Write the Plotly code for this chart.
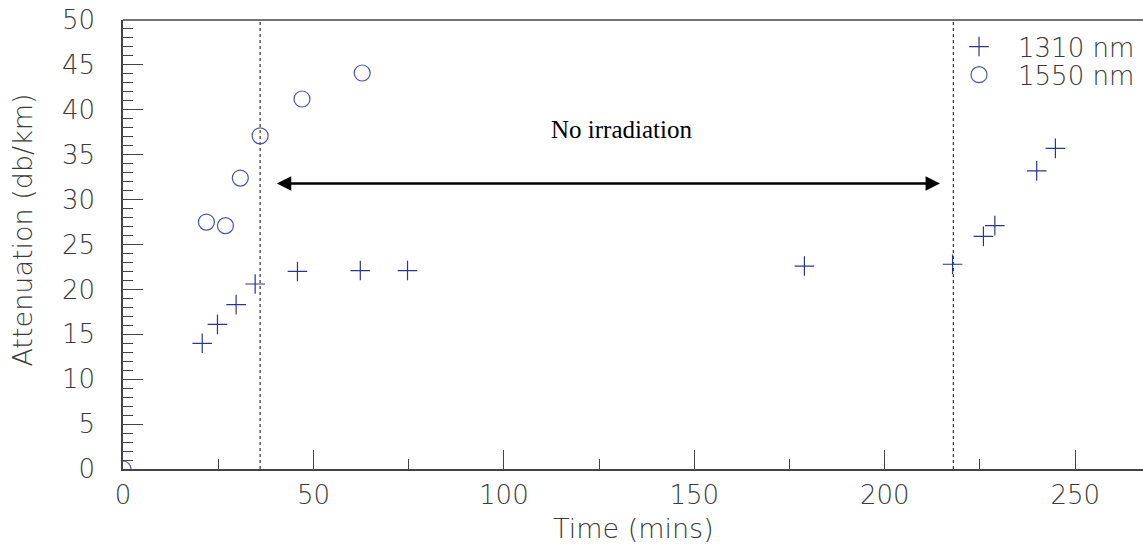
import plotly.graph_objects as go

# Attenuation measurements (dB/km) versus time (mins)
t_1310 = [20.8, 24.8, 29.7, 34.7, 45.8, 62.3, 74.7, 178.9, 217.8, 225.9, 228.9, 239.9, 244.8]
a_1310 = [14.0, 16.1, 18.3, 20.6, 22.0, 22.1, 22.1, 22.6, 22.8, 25.9, 27.1, 33.2, 35.7]

t_1550 = [0.0, 21.9, 26.9, 30.8, 36.0, 47.0, 62.8]
a_1550 = [0.0, 27.5, 27.1, 32.4, 37.1, 41.2, 44.1]

# irradiation off / back on
t_stop = 36.0
t_restart = 218.0
arrow_y = 31.8
arrow_x0, arrow_x1 = 40.0, 214.5

x_range = [0, 267.8]
y_range = [0, 50]

axis_font = dict(family="DejaVu Sans", size=26, color="#3a3a3a", weight=200)
title_font = dict(family="DejaVu Sans", size=27, color="#3a3a3a", weight=200)
c_1310 = "#2a3590"
c_1550 = "#4553b5"

fig = go.Figure()

fig.add_trace(go.Scatter(
    x=t_1310, y=a_1310, mode="markers", name="1310 nm", legend="legend",
    marker=dict(symbol="cross-thin-open", size=14, color=c_1310,
                line=dict(color=c_1310, width=1.2)),
))
fig.add_trace(go.Scatter(
    x=t_1550, y=a_1550, mode="markers", name="1550 nm", legend="legend2",
    marker=dict(symbol="circle-open", size=16, color=c_1550,
                line=dict(color=c_1550, width=1.2)),
))

# dotted markers for the irradiation gap
for tx in (t_stop, t_restart):
    fig.add_shape(type="line", xref="x", yref="paper", x0=tx, x1=tx, y0=0, y1=1,
                  line=dict(color="#222", width=1.1, dash="dot"), layer="below")

# top frame line
fig.add_shape(type="line", xref="paper", yref="paper", x0=0, x1=1, y0=1, y1=1,
              line=dict(color="#444", width=1.6))

# double-headed arrow
fig.add_annotation(x=arrow_x1, y=arrow_y, ax=arrow_x0, ay=arrow_y,
                   xref="x", yref="y", axref="x", ayref="y", text="",
                   showarrow=True, arrowhead=2, startarrowhead=2,
                   arrowside="end+start", arrowsize=1.2, startarrowsize=1.2,
                   arrowwidth=2.4, arrowcolor="black")
fig.add_annotation(x=130.8, y=37.8, xref="x", yref="y",
                   text="No irradiation", showarrow=False,
                   font=dict(family="Liberation Serif", size=25, color="black"))

# axis titles
fig.add_annotation(x=0.5, y=-0.132, xref="paper", yref="paper",
                   xanchor="center", yanchor="middle",
                   text="Time (mins)", showarrow=False, font=title_font)
fig.add_annotation(x=-0.098, y=0.531, xref="paper", yref="paper",
                   xanchor="center", yanchor="middle", textangle=-90,
                   text="Attenuation (db/km)", showarrow=False, font=title_font)

legend_style = dict(xanchor="left", yanchor="middle", itemwidth=68,
                    font=dict(family="DejaVu Sans", size=26, color="#3a3a3a", weight=200),
                    bgcolor="rgba(0,0,0,0)", borderwidth=0)

fig.update_layout(
    width=1143, height=546,
    margin=dict(l=123, r=0, t=20, b=77),
    plot_bgcolor="white", paper_bgcolor="white",
    showlegend=True,
    legend=dict(x=0.801, y=0.9406, **legend_style),
    legend2=dict(x=0.801, y=0.878, **legend_style),
)

fig.update_xaxes(
    range=x_range, showgrid=False, zeroline=False,
    showline=True, linecolor="#444", linewidth=1.6,
    tickmode="linear", tick0=0, dtick=50,
    ticks="inside", ticklen=19, tickwidth=1.4, tickcolor="#444",
    minor=dict(tickmode="linear", tick0=0, dtick=25, ticks="inside",
               ticklen=10, tickwidth=1.4, tickcolor="#444"),
    tickfont=axis_font, ticklabelstandoff=2,
)
fig.update_yaxes(
    range=y_range, showgrid=False, zeroline=False,
    showline=True, linecolor="#444", linewidth=1.6,
    tickmode="linear", tick0=0, dtick=5,
    ticks="inside", ticklen=20, tickwidth=1.4, tickcolor="#444",
    minor=dict(tickmode="linear", tick0=0, dtick=1, ticks="inside",
               ticklen=10, tickwidth=1.4, tickcolor="#444"),
    tickfont=axis_font, ticklabelstandoff=21,
)

fig.write_html("out.html")
